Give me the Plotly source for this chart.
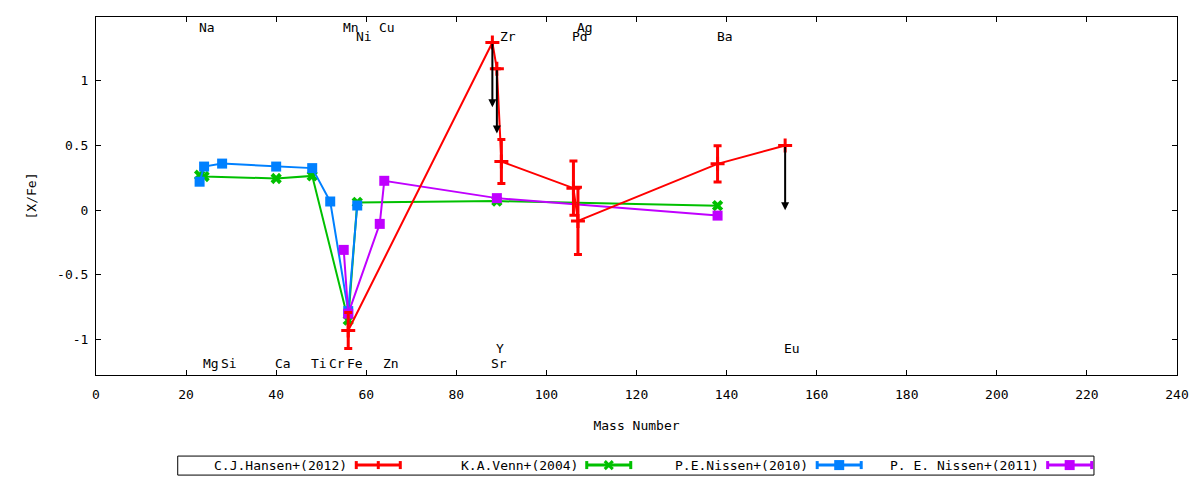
"""[X/Fe] abundance pattern vs mass number, gnuplot-style look."""
import plotly.graph_objects as go

# ---- data -------------------------------------------------------------
hansen_mass = [56, 88, 89, 90, 106, 107, 138, 153]
hansen_xfe = [-0.93, 1.296, 1.093, 0.376, 0.17, -0.083, 0.358, 0.50]
hansen_err = [0.14, 0.0, 0.0, 0.17, 0.21, 0.26, 0.14, 0.0]
hansen_upper = [88, 89, 153]          # upper limits (drawn as arrows)

venn_mass = [23, 24, 40, 48, 56, 58, 89, 138]
venn_xfe = [0.27, 0.26, 0.245, 0.265, -0.85, 0.06, 0.07, 0.035]

nissen10_mass = [23, 24, 28, 40, 48, 52, 56, 58]
nissen10_xfe = [0.22, 0.337, 0.36, 0.337, 0.325, 0.067, -0.78, 0.036]

nissen11_mass = [55, 56, 63, 64, 89, 138]
nissen11_xfe = [-0.307, -0.80, -0.106, 0.227, 0.093, -0.042]

# element labels: name, mass number, label height
top_labels = [("Na", 23, 1.414), ("Mn", 55, 1.414), ("Cu", 63, 1.414),
              ("Ag", 107, 1.414), ("Ni", 58, 1.34), ("Zr", 90, 1.34),
              ("Pd", 106, 1.34), ("Ba", 138, 1.34)]
bottom_labels = [("Mg", 24, -1.185), ("Si", 28, -1.185), ("Ca", 40, -1.185),
                 ("Ti", 48, -1.185), ("Cr", 52, -1.185), ("Fe", 56, -1.185),
                 ("Zn", 64, -1.185), ("Sr", 88, -1.185), ("Y", 89, -1.071),
                 ("Eu", 153, -1.071)]

x_ticks = list(range(0, 241, 20))
y_ticks = [-1, -0.5, 0, 0.5, 1]
y_tick_text = ["-1", "-0.5", "0", "0.5", "1"]

limit_arrow = 0.5
FONT = "DejaVu Sans Mono"
RED, GREEN, BLUE, PURPLE = "#ff0000", "#00c000", "#0080ff", "#c000ff"

series = [
    ("C.J.Hansen+(2012)", RED, "cross-thin"),
    ("K.A.Venn+(2004)", GREEN, "x"),
    ("P.E.Nissen+(2010)", BLUE, "square"),
    ("P. E. Nissen+(2011)", PURPLE, "square"),
]

W, H = 1200, 480
# plot area in page pixels
L, R, T, B = 96.3, 1177.0, 17.3, 375.0


def px(x, y):
    """page pixel -> paper coords"""
    return (x - L) / (R - L), (B - y) / (B - T)


fig = go.Figure()

fig.add_trace(go.Scatter(
    x=venn_mass, y=venn_xfe, mode="lines+markers",
    line=dict(color=GREEN, width=2),
    marker=dict(symbol="x", size=10, color=GREEN)))
fig.add_trace(go.Scatter(
    x=nissen10_mass, y=nissen10_xfe, mode="lines+markers",
    line=dict(color=BLUE, width=2),
    marker=dict(symbol="square", size=10, color=BLUE)))
fig.add_trace(go.Scatter(
    x=nissen11_mass, y=nissen11_xfe, mode="lines+markers",
    line=dict(color=PURPLE, width=2),
    marker=dict(symbol="square", size=10, color=PURPLE)))
fig.add_trace(go.Scatter(
    x=hansen_mass, y=hansen_xfe, mode="lines+markers",
    line=dict(color=RED, width=2),
    marker=dict(symbol="cross-thin", size=10, color=RED,
                line=dict(color=RED, width=3)),
    error_y=dict(type="data", array=hansen_err, color=RED,
                 thickness=3, width=4)))

# upper-limit arrows
for m, v in zip(hansen_mass, hansen_xfe):
    if m in hansen_upper:
        fig.add_annotation(x=m, y=v - limit_arrow, ax=m, ay=v,
                           xref="x", yref="y", axref="x", ayref="y",
                           showarrow=True, arrowhead=2, arrowsize=0.8,
                           arrowwidth=2, arrowcolor="black", text="")

for name, m, h in top_labels + bottom_labels:
    fig.add_annotation(x=m, y=h, text=name, showarrow=False,
                       xanchor="left", yanchor="middle", xshift=-3,
                       font=dict(family=FONT, size=13, color="black"))

# gnuplot-like key below the plot
bx0, by0 = px(178, 475)
bx1, by1 = px(1094, 456)
fig.add_shape(type="rect", xref="paper", yref="paper",
              x0=bx0, y0=by0, x1=bx1, y1=by1,
              line=dict(color="black", width=1))
ky = 465
for i, (name, col, sym) in enumerate(series):
    s0 = 356.5 + 230.4 * i
    s1 = s0 + 44
    tx, ty = px(s0 - 7, ky)
    fig.add_annotation(xref="paper", yref="paper", x=tx, y=ty, text=name,
                       showarrow=False, xanchor="right", yanchor="middle",
                       font=dict(family=FONT, size=13, color="black"))
    a0, yy = px(s0, ky)
    a1, _ = px(s1, ky)
    fig.add_shape(type="line", xref="paper", yref="paper",
                  x0=a0, x1=a1, y0=yy, y1=yy, line=dict(color=col, width=3))
    for cx in (s0, s1):
        c, y0 = px(cx, ky + 4)
        _, y1 = px(cx, ky - 4)
        fig.add_shape(type="line", xref="paper", yref="paper",
                      x0=c, x1=c, y0=y0, y1=y1, line=dict(color=col, width=3))
    mid = (s0 + s1) / 2
    if sym == "square":
        q0, r0 = px(mid - 5, ky + 5)
        q1, r1 = px(mid + 5, ky - 5)
        fig.add_shape(type="rect", xref="paper", yref="paper",
                      x0=q0, x1=q1, y0=r0, y1=r1,
                      line=dict(width=0), fillcolor=col)
    elif sym == "x":
        for d in (-1, 1):
            q0, r0 = px(mid - 4, ky - 4 * d)
            q1, r1 = px(mid + 4, ky + 4 * d)
            fig.add_shape(type="line", xref="paper", yref="paper",
                          x0=q0, x1=q1, y0=r0, y1=r1,
                          line=dict(color=col, width=3))
    else:
        c, y0 = px(mid, ky + 4)
        _, y1 = px(mid, ky - 4)
        fig.add_shape(type="line", xref="paper", yref="paper",
                      x0=c, x1=c, y0=y0, y1=y1, line=dict(color=col, width=3))

axis_common = dict(showgrid=False, zeroline=False, showline=True,
                   linecolor="black", linewidth=1, mirror="ticks",
                   ticks="inside", ticklen=5, tickcolor="black",
                   tickfont=dict(family=FONT, size=13, color="black"))

fig.update_xaxes(range=[0, 240], tickvals=x_ticks, ticklabelstandoff=7,
                 title=dict(text="Mass Number", standoff=20,
                            font=dict(family=FONT, size=13, color="black")),
                 **axis_common)
fig.update_yaxes(range=[-1.274, 1.493], tickvals=y_ticks, ticktext=y_tick_text,
                 ticklabelstandoff=4,
                 title=dict(text="[X/Fe]", standoff=17,
                            font=dict(family=FONT, size=13, color="black")),
                 **axis_common)

fig.update_layout(width=W, height=H, showlegend=False,
                  plot_bgcolor="white", paper_bgcolor="white",
                  margin=dict(l=L, r=W - R, t=T, b=H - B),
                  font=dict(family=FONT, size=13, color="black"))

# drop the browser's default body margin so the 1200x480 figure fills the page
fig.write_html("out.html", config={"displayModeBar": False},
               post_script="document.body.style.margin='0';"
                           "document.body.style.overflow='hidden';")
